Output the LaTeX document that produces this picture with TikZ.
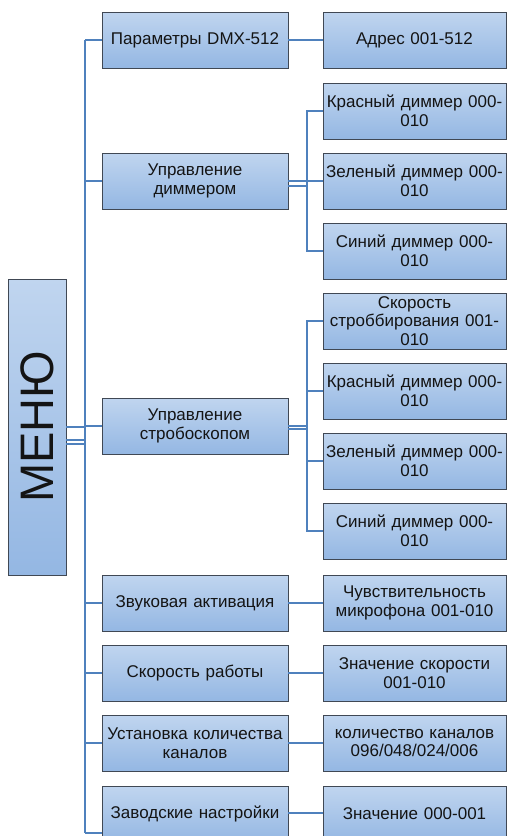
\documentclass[tikz,border=0pt]{standalone}
\usepackage{fontspec}
\setmainfont{Liberation Sans}
\definecolor{boxtop}{RGB}{192,213,239}
\definecolor{boxbot}{RGB}{148,183,227}
\definecolor{boxline}{RGB}{64,72,84}
\definecolor{conn}{RGB}{79,129,189}
\definecolor{txt}{RGB}{20,20,20}
\tikzset{
  base/.style={draw=boxline, line width=0.7pt, top color=boxtop, bottom color=boxbot,
    inner sep=1pt, text=txt, align=center, font=\fontsize{17}{18.5}\selectfont},
  lbox/.style={base, minimum width=186pt, minimum height=56pt, text width=183pt},
  rbox/.style={base, minimum width=183pt, minimum height=56pt, text width=180pt},
  cn/.style={draw=conn, line width=1.8pt}
}
\begin{document}
\begin{tikzpicture}[x=1pt,y=-1pt]
\clip (0,0) rectangle (507,836);
\fill[white] (0,0) rectangle (507,836);

% root
\node[base, minimum width=58pt, minimum height=296pt] (menu) at (37,427) {};
\node[rotate=90, text=txt, font=\fontsize{47}{47}\selectfont, inner sep=0pt] (menut) at (menu.center) {МЕНЮ};

% level 1
\node[lbox] (p1) at (195,40) {Параметры DMX-512};
\node[lbox] (p2) at (195,181) {Управление\\диммером};
\node[lbox] (p3) at (195,426) {Управление\\стробоскопом};
\node[lbox] (p4) at (195,603) {Звуковая активация};
\node[lbox] (p5) at (195,673) {Скорость работы};
\node[lbox] (p6) at (195,743) {Установка количества\\каналов};
\node[lbox] (p7) at (195,814) {Заводские настройки};

% level 2
\node[rbox] (a1) at (414.5,40) {Адрес 001-512};
\node[rbox] (d1) at (414.5,111) {Красный диммер 000-\\010};
\node[rbox] (d2) at (414.5,181) {Зеленый диммер 000-\\010};
\node[rbox] (d3) at (414.5,251) {Синий диммер 000-\\010};
\node[rbox] (s1) at (414.5,321) {Скорость\\строббирования 001-\\010};
\node[rbox] (s2) at (414.5,391) {Красный диммер 000-\\010};
\node[rbox] (s3) at (414.5,461) {Зеленый диммер 000-\\010};
\node[rbox] (s4) at (414.5,531) {Синий диммер 000-\\010};
\node[rbox] (a4) at (414.5,603) {Чувствительность\\микрофона 001-010};
\node[rbox] (a5) at (414.5,673) {Значение скорости\\001-010};
\node[rbox] (a6) at (414.5,743) {количество каналов\\096/048/024/006};
\node[rbox] (a7) at (414.5,814) {Значение 000-001};

% main bus
\coordinate (bt) at (85,40);
\coordinate (bb) at (85,833);
\draw[cn] (bt) -- (bb);
\draw[cn] (menu.east) -- (menu.east -| bt);
\draw[cn] ([yshift=-13pt]menu.east) -- ([yshift=-13pt]menu.east -| bt);
\draw[cn] ([yshift=-17pt]menu.east) -- ([yshift=-17pt]menu.east -| bt);
\draw[cn] (bt) -- (p1.west);
\foreach \n in {p2,p3,p4,p5,p6} \draw[cn] (\n.west -| bt) -- (\n.west);
\draw[cn] (bb) -- (bb -| p7.west);

% dimmer sub-bus
\coordinate (db) at (307,181);
\draw[cn] (p2.east) -- (db);
\draw[cn] ([yshift=-5pt]p2.east) -- ([yshift=-5pt]p2.east -| db);
\draw[cn] (db) |- (d1.west);
\draw[cn] (db) |- (d3.west);
\draw[cn] (db) -- (d2.west);

% strobe sub-bus
\coordinate (sb) at (307,426);
\draw[cn] (p3.east) -- (sb);
\draw[cn] ([yshift=-3pt]p3.east) -- ([yshift=-3pt]p3.east -| sb);
\draw[cn] (sb) |- (s1.west);
\draw[cn] (sb) |- (s2.west);
\draw[cn] (sb) |- (s3.west);
\draw[cn] (sb) |- (s4.west);

% single links
\draw[cn] (p1.east) -- (a1.west);
\draw[cn] (p4.east) -- (a4.west);
\draw[cn] (p5.east) -- (a5.west);
\draw[cn] (p6.east) -- (a6.west);
\draw[cn] ([yshift=1pt]p7.east) -- ([yshift=1pt]a7.west);
\end{tikzpicture}
\end{document}
